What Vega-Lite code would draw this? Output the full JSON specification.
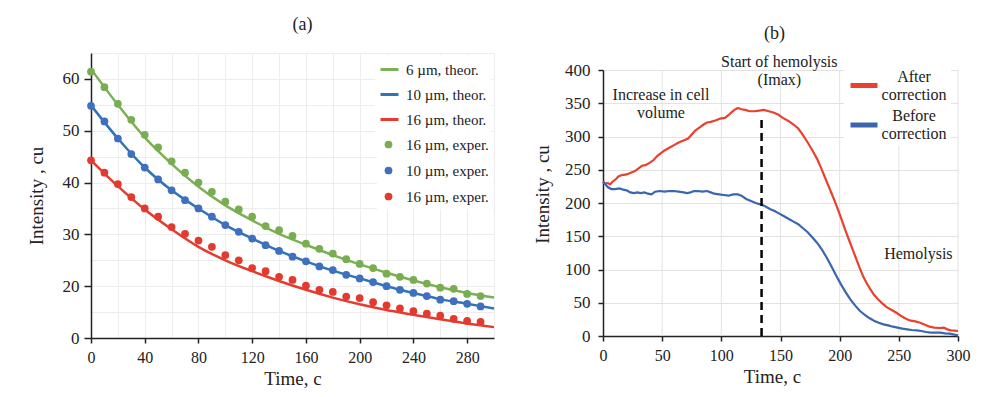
{
  "$schema": "https://vega.github.io/schema/vega-lite/v6.json",
  "padding": {"left": 27, "top": 16, "right": 5, "bottom": 2},
  "background": "white",
  "spacing": 34,
  "resolve": {
    "scale": {"stroke": "independent", "fill": "independent", "x": "independent", "y": "independent"},
    "legend": {"stroke": "independent", "fill": "independent"}
  },
  "config": {
    "font": "Liberation Serif",
    "view": {"stroke": null},
    "axis": {
      "labelFont": "Liberation Serif",
      "titleFont": "Liberation Serif",
      "labelColor": "#222222",
      "titleColor": "#222222",
      "titleFontWeight": "normal",
      "domainColor": "#222222",
      "tickColor": "#222222",
      "domainWidth": 1.5,
      "tickWidth": 1.5,
      "labelOverlap": false,
      "labelFlush": false
    },
    "legend": {"labelFont": "Liberation Serif", "labelColor": "#222222"},
    "title": {"font": "Liberation Serif", "fontWeight": "normal", "color": "#222222"}
  },
  "datasets": {
    "theor": [
      {"d": "6 µm, theor.", "t": 0, "v": 61.9}, {"d": "6 µm, theor.", "t": 20, "v": 55.0}, {"d": "6 µm, theor.", "t": 40, "v": 48.7}, {"d": "6 µm, theor.", "t": 60, "v": 43.6},
      {"d": "6 µm, theor.", "t": 80, "v": 39.2}, {"d": "6 µm, theor.", "t": 100, "v": 35.6}, {"d": "6 µm, theor.", "t": 120, "v": 32.7}, {"d": "6 µm, theor.", "t": 140, "v": 30.1},
      {"d": "6 µm, theor.", "t": 160, "v": 28.0}, {"d": "6 µm, theor.", "t": 180, "v": 26.0}, {"d": "6 µm, theor.", "t": 200, "v": 24.2}, {"d": "6 µm, theor.", "t": 220, "v": 22.6},
      {"d": "6 µm, theor.", "t": 240, "v": 21.1}, {"d": "6 µm, theor.", "t": 260, "v": 19.8}, {"d": "6 µm, theor.", "t": 280, "v": 18.7}, {"d": "6 µm, theor.", "t": 300, "v": 17.8},
      {"d": "10 µm, theor.", "t": 0, "v": 54.9}, {"d": "10 µm, theor.", "t": 20, "v": 48.5}, {"d": "10 µm, theor.", "t": 40, "v": 42.9}, {"d": "10 µm, theor.", "t": 60, "v": 38.5},
      {"d": "10 µm, theor.", "t": 80, "v": 35.0}, {"d": "10 µm, theor.", "t": 100, "v": 31.8}, {"d": "10 µm, theor.", "t": 120, "v": 29.2}, {"d": "10 µm, theor.", "t": 140, "v": 26.8},
      {"d": "10 µm, theor.", "t": 160, "v": 24.8}, {"d": "10 µm, theor.", "t": 180, "v": 23.0}, {"d": "10 µm, theor.", "t": 200, "v": 21.5}, {"d": "10 µm, theor.", "t": 220, "v": 20.0},
      {"d": "10 µm, theor.", "t": 240, "v": 18.7}, {"d": "10 µm, theor.", "t": 260, "v": 17.5}, {"d": "10 µm, theor.", "t": 280, "v": 16.6}, {"d": "10 µm, theor.", "t": 300, "v": 15.7},
      {"d": "16 µm, theor.", "t": 0, "v": 44.3}, {"d": "16 µm, theor.", "t": 20, "v": 39.3}, {"d": "16 µm, theor.", "t": 40, "v": 34.8}, {"d": "16 µm, theor.", "t": 60, "v": 31.0},
      {"d": "16 µm, theor.", "t": 80, "v": 27.6}, {"d": "16 µm, theor.", "t": 100, "v": 25.0}, {"d": "16 µm, theor.", "t": 120, "v": 22.9}, {"d": "16 µm, theor.", "t": 140, "v": 21.0},
      {"d": "16 µm, theor.", "t": 160, "v": 19.3}, {"d": "16 µm, theor.", "t": 180, "v": 17.8}, {"d": "16 µm, theor.", "t": 200, "v": 16.5}, {"d": "16 µm, theor.", "t": 220, "v": 15.4},
      {"d": "16 µm, theor.", "t": 240, "v": 14.5}, {"d": "16 µm, theor.", "t": 260, "v": 13.6}, {"d": "16 µm, theor.", "t": 280, "v": 12.8}, {"d": "16 µm, theor.", "t": 300, "v": 12.1}
    ],
    "exper": [
      {"series": "6 µm, exper.", "t": 0, "v": 61.4}, {"series": "6 µm, exper.", "t": 10, "v": 58.4}, {"series": "6 µm, exper.", "t": 20, "v": 55.2}, {"series": "6 µm, exper.", "t": 30, "v": 52.1},
      {"series": "6 µm, exper.", "t": 40, "v": 49.2}, {"series": "6 µm, exper.", "t": 50, "v": 46.8}, {"series": "6 µm, exper.", "t": 60, "v": 44.1}, {"series": "6 µm, exper.", "t": 70, "v": 41.9},
      {"series": "6 µm, exper.", "t": 80, "v": 40.0}, {"series": "6 µm, exper.", "t": 90, "v": 38.2}, {"series": "6 µm, exper.", "t": 100, "v": 36.3}, {"series": "6 µm, exper.", "t": 110, "v": 34.8},
      {"series": "6 µm, exper.", "t": 120, "v": 33.4}, {"series": "6 µm, exper.", "t": 130, "v": 31.6}, {"series": "6 µm, exper.", "t": 140, "v": 30.8}, {"series": "6 µm, exper.", "t": 150, "v": 29.7},
      {"series": "6 µm, exper.", "t": 160, "v": 28.2}, {"series": "6 µm, exper.", "t": 170, "v": 27.2}, {"series": "6 µm, exper.", "t": 180, "v": 26.3}, {"series": "6 µm, exper.", "t": 190, "v": 25.2},
      {"series": "6 µm, exper.", "t": 200, "v": 24.3}, {"series": "6 µm, exper.", "t": 210, "v": 23.5}, {"series": "6 µm, exper.", "t": 220, "v": 22.4}, {"series": "6 µm, exper.", "t": 230, "v": 21.8},
      {"series": "6 µm, exper.", "t": 240, "v": 21.2}, {"series": "6 µm, exper.", "t": 250, "v": 20.5}, {"series": "6 µm, exper.", "t": 260, "v": 19.7}, {"series": "6 µm, exper.", "t": 270, "v": 19.5},
      {"series": "6 µm, exper.", "t": 280, "v": 18.5}, {"series": "6 µm, exper.", "t": 290, "v": 18.1},
      {"series": "10 µm, exper.", "t": 0, "v": 54.8}, {"series": "10 µm, exper.", "t": 10, "v": 51.8}, {"series": "10 µm, exper.", "t": 20, "v": 48.5}, {"series": "10 µm, exper.", "t": 30, "v": 45.5},
      {"series": "10 µm, exper.", "t": 40, "v": 42.9}, {"series": "10 µm, exper.", "t": 50, "v": 40.6}, {"series": "10 µm, exper.", "t": 60, "v": 38.5}, {"series": "10 µm, exper.", "t": 70, "v": 36.6},
      {"series": "10 µm, exper.", "t": 80, "v": 35.0}, {"series": "10 µm, exper.", "t": 90, "v": 33.4}, {"series": "10 µm, exper.", "t": 100, "v": 31.8}, {"series": "10 µm, exper.", "t": 110, "v": 30.5},
      {"series": "10 µm, exper.", "t": 120, "v": 29.2}, {"series": "10 µm, exper.", "t": 130, "v": 27.9}, {"series": "10 µm, exper.", "t": 140, "v": 26.8}, {"series": "10 µm, exper.", "t": 150, "v": 25.7},
      {"series": "10 µm, exper.", "t": 160, "v": 24.8}, {"series": "10 µm, exper.", "t": 170, "v": 23.8}, {"series": "10 µm, exper.", "t": 180, "v": 23.1}, {"series": "10 µm, exper.", "t": 190, "v": 22.2},
      {"series": "10 µm, exper.", "t": 200, "v": 21.5}, {"series": "10 µm, exper.", "t": 210, "v": 20.8}, {"series": "10 µm, exper.", "t": 220, "v": 20.0}, {"series": "10 µm, exper.", "t": 230, "v": 19.3},
      {"series": "10 µm, exper.", "t": 240, "v": 18.7}, {"series": "10 µm, exper.", "t": 250, "v": 18.1}, {"series": "10 µm, exper.", "t": 260, "v": 17.4}, {"series": "10 µm, exper.", "t": 270, "v": 17.1},
      {"series": "10 µm, exper.", "t": 280, "v": 16.6}, {"series": "10 µm, exper.", "t": 290, "v": 16.1},
      {"series": "16 µm, exper.", "t": 0, "v": 44.3}, {"series": "16 µm, exper.", "t": 10, "v": 41.9}, {"series": "16 µm, exper.", "t": 20, "v": 39.7}, {"series": "16 µm, exper.", "t": 30, "v": 37.2},
      {"series": "16 µm, exper.", "t": 40, "v": 35.0}, {"series": "16 µm, exper.", "t": 50, "v": 33.4}, {"series": "16 µm, exper.", "t": 60, "v": 31.4}, {"series": "16 µm, exper.", "t": 70, "v": 30.1},
      {"series": "16 µm, exper.", "t": 80, "v": 28.8}, {"series": "16 µm, exper.", "t": 90, "v": 27.6}, {"series": "16 µm, exper.", "t": 100, "v": 26.0}, {"series": "16 µm, exper.", "t": 110, "v": 25.0},
      {"series": "16 µm, exper.", "t": 120, "v": 23.5}, {"series": "16 µm, exper.", "t": 130, "v": 22.9}, {"series": "16 µm, exper.", "t": 140, "v": 21.8}, {"series": "16 µm, exper.", "t": 150, "v": 21.2},
      {"series": "16 µm, exper.", "t": 160, "v": 20.1}, {"series": "16 µm, exper.", "t": 170, "v": 19.3}, {"series": "16 µm, exper.", "t": 180, "v": 18.9}, {"series": "16 µm, exper.", "t": 190, "v": 18.0},
      {"series": "16 µm, exper.", "t": 200, "v": 17.7}, {"series": "16 µm, exper.", "t": 210, "v": 16.9}, {"series": "16 µm, exper.", "t": 220, "v": 16.3}, {"series": "16 µm, exper.", "t": 230, "v": 15.7},
      {"series": "16 µm, exper.", "t": 240, "v": 15.2}, {"series": "16 µm, exper.", "t": 250, "v": 14.7}, {"series": "16 µm, exper.", "t": 260, "v": 14.3}, {"series": "16 µm, exper.", "t": 270, "v": 13.7},
      {"series": "16 µm, exper.", "t": 280, "v": 13.3}, {"series": "16 µm, exper.", "t": 290, "v": 13.1}
    ],
    "hemo": [
      {"s": "After correction", "t": 0, "v": 232}, {"s": "After correction", "t": 2, "v": 229}, {"s": "After correction", "t": 4, "v": 230}, {"s": "After correction", "t": 6, "v": 228},
      {"s": "After correction", "t": 8, "v": 232}, {"s": "After correction", "t": 11, "v": 236}, {"s": "After correction", "t": 13, "v": 240}, {"s": "After correction", "t": 16, "v": 242},
      {"s": "After correction", "t": 20, "v": 243}, {"s": "After correction", "t": 24, "v": 246}, {"s": "After correction", "t": 27, "v": 248}, {"s": "After correction", "t": 30, "v": 252},
      {"s": "After correction", "t": 33, "v": 256}, {"s": "After correction", "t": 36, "v": 257}, {"s": "After correction", "t": 40, "v": 261}, {"s": "After correction", "t": 43, "v": 265},
      {"s": "After correction", "t": 46, "v": 271}, {"s": "After correction", "t": 49, "v": 275}, {"s": "After correction", "t": 52, "v": 279}, {"s": "After correction", "t": 56, "v": 283},
      {"s": "After correction", "t": 60, "v": 287}, {"s": "After correction", "t": 64, "v": 291}, {"s": "After correction", "t": 68, "v": 294}, {"s": "After correction", "t": 72, "v": 297},
      {"s": "After correction", "t": 75, "v": 303}, {"s": "After correction", "t": 78, "v": 309}, {"s": "After correction", "t": 82, "v": 314}, {"s": "After correction", "t": 85, "v": 318},
      {"s": "After correction", "t": 88, "v": 321}, {"s": "After correction", "t": 91, "v": 322}, {"s": "After correction", "t": 95, "v": 324}, {"s": "After correction", "t": 99, "v": 327},
      {"s": "After correction", "t": 103, "v": 328}, {"s": "After correction", "t": 106, "v": 332}, {"s": "After correction", "t": 109, "v": 337}, {"s": "After correction", "t": 112, "v": 341},
      {"s": "After correction", "t": 114, "v": 343}, {"s": "After correction", "t": 117, "v": 341}, {"s": "After correction", "t": 120, "v": 340}, {"s": "After correction", "t": 124, "v": 338},
      {"s": "After correction", "t": 128, "v": 338}, {"s": "After correction", "t": 132, "v": 339}, {"s": "After correction", "t": 136, "v": 340}, {"s": "After correction", "t": 140, "v": 338},
      {"s": "After correction", "t": 144, "v": 336}, {"s": "After correction", "t": 148, "v": 333}, {"s": "After correction", "t": 152, "v": 328}, {"s": "After correction", "t": 157, "v": 323},
      {"s": "After correction", "t": 161, "v": 318}, {"s": "After correction", "t": 165, "v": 312}, {"s": "After correction", "t": 169, "v": 302}, {"s": "After correction", "t": 173, "v": 291},
      {"s": "After correction", "t": 177, "v": 279}, {"s": "After correction", "t": 181, "v": 266}, {"s": "After correction", "t": 184, "v": 254}, {"s": "After correction", "t": 187, "v": 241},
      {"s": "After correction", "t": 190, "v": 228}, {"s": "After correction", "t": 193, "v": 215}, {"s": "After correction", "t": 196, "v": 202}, {"s": "After correction", "t": 199, "v": 188},
      {"s": "After correction", "t": 202, "v": 173}, {"s": "After correction", "t": 205, "v": 158}, {"s": "After correction", "t": 208, "v": 144}, {"s": "After correction", "t": 211, "v": 130},
      {"s": "After correction", "t": 214, "v": 116}, {"s": "After correction", "t": 217, "v": 102}, {"s": "After correction", "t": 220, "v": 89}, {"s": "After correction", "t": 223, "v": 79},
      {"s": "After correction", "t": 226, "v": 70}, {"s": "After correction", "t": 229, "v": 62}, {"s": "After correction", "t": 232, "v": 56}, {"s": "After correction", "t": 236, "v": 49},
      {"s": "After correction", "t": 240, "v": 43}, {"s": "After correction", "t": 244, "v": 39}, {"s": "After correction", "t": 248, "v": 35}, {"s": "After correction", "t": 252, "v": 30},
      {"s": "After correction", "t": 256, "v": 26}, {"s": "After correction", "t": 260, "v": 23}, {"s": "After correction", "t": 264, "v": 22}, {"s": "After correction", "t": 268, "v": 20},
      {"s": "After correction", "t": 272, "v": 17}, {"s": "After correction", "t": 276, "v": 14}, {"s": "After correction", "t": 280, "v": 12.5}, {"s": "After correction", "t": 284, "v": 12},
      {"s": "After correction", "t": 288, "v": 12.5}, {"s": "After correction", "t": 291, "v": 10}, {"s": "After correction", "t": 294, "v": 8.5}, {"s": "After correction", "t": 297, "v": 8},
      {"s": "After correction", "t": 300, "v": 7.5},
      {"s": "Before correction", "t": 0, "v": 232}, {"s": "Before correction", "t": 2, "v": 228}, {"s": "Before correction", "t": 4, "v": 224}, {"s": "Before correction", "t": 7, "v": 221},
      {"s": "Before correction", "t": 10, "v": 221}, {"s": "Before correction", "t": 14, "v": 222}, {"s": "Before correction", "t": 17, "v": 220}, {"s": "Before correction", "t": 20, "v": 219},
      {"s": "Before correction", "t": 23, "v": 216}, {"s": "Before correction", "t": 26, "v": 215}, {"s": "Before correction", "t": 29, "v": 216}, {"s": "Before correction", "t": 32, "v": 215},
      {"s": "Before correction", "t": 35, "v": 216}, {"s": "Before correction", "t": 38, "v": 214}, {"s": "Before correction", "t": 41, "v": 213}, {"s": "Before correction", "t": 44, "v": 217},
      {"s": "Before correction", "t": 48, "v": 218}, {"s": "Before correction", "t": 52, "v": 217}, {"s": "Before correction", "t": 56, "v": 218}, {"s": "Before correction", "t": 60, "v": 218},
      {"s": "Before correction", "t": 64, "v": 217}, {"s": "Before correction", "t": 68, "v": 216}, {"s": "Before correction", "t": 71, "v": 215}, {"s": "Before correction", "t": 74, "v": 216},
      {"s": "Before correction", "t": 77, "v": 218}, {"s": "Before correction", "t": 80, "v": 218}, {"s": "Before correction", "t": 84, "v": 217}, {"s": "Before correction", "t": 88, "v": 218},
      {"s": "Before correction", "t": 91, "v": 216}, {"s": "Before correction", "t": 94, "v": 214}, {"s": "Before correction", "t": 98, "v": 213}, {"s": "Before correction", "t": 102, "v": 212},
      {"s": "Before correction", "t": 106, "v": 211}, {"s": "Before correction", "t": 110, "v": 213}, {"s": "Before correction", "t": 114, "v": 213}, {"s": "Before correction", "t": 117, "v": 211},
      {"s": "Before correction", "t": 121, "v": 206}, {"s": "Before correction", "t": 125, "v": 203}, {"s": "Before correction", "t": 129, "v": 200}, {"s": "Before correction", "t": 133, "v": 198},
      {"s": "Before correction", "t": 137, "v": 195}, {"s": "Before correction", "t": 141, "v": 191}, {"s": "Before correction", "t": 145, "v": 188}, {"s": "Before correction", "t": 149, "v": 184},
      {"s": "Before correction", "t": 153, "v": 180}, {"s": "Before correction", "t": 157, "v": 176}, {"s": "Before correction", "t": 161, "v": 172}, {"s": "Before correction", "t": 165, "v": 168},
      {"s": "Before correction", "t": 169, "v": 162}, {"s": "Before correction", "t": 173, "v": 156}, {"s": "Before correction", "t": 177, "v": 148}, {"s": "Before correction", "t": 181, "v": 140},
      {"s": "Before correction", "t": 185, "v": 130}, {"s": "Before correction", "t": 189, "v": 118}, {"s": "Before correction", "t": 193, "v": 105}, {"s": "Before correction", "t": 197, "v": 91},
      {"s": "Before correction", "t": 201, "v": 78}, {"s": "Before correction", "t": 205, "v": 66}, {"s": "Before correction", "t": 209, "v": 55}, {"s": "Before correction", "t": 213, "v": 46},
      {"s": "Before correction", "t": 217, "v": 38}, {"s": "Before correction", "t": 221, "v": 32}, {"s": "Before correction", "t": 225, "v": 27}, {"s": "Before correction", "t": 229, "v": 23},
      {"s": "Before correction", "t": 233, "v": 20}, {"s": "Before correction", "t": 237, "v": 17.5}, {"s": "Before correction", "t": 241, "v": 16}, {"s": "Before correction", "t": 245, "v": 14},
      {"s": "Before correction", "t": 249, "v": 12.5}, {"s": "Before correction", "t": 253, "v": 11}, {"s": "Before correction", "t": 257, "v": 10}, {"s": "Before correction", "t": 261, "v": 9},
      {"s": "Before correction", "t": 265, "v": 8.5}, {"s": "Before correction", "t": 269, "v": 7.5}, {"s": "Before correction", "t": 273, "v": 6}, {"s": "Before correction", "t": 277, "v": 5},
      {"s": "Before correction", "t": 281, "v": 5}, {"s": "Before correction", "t": 285, "v": 5}, {"s": "Before correction", "t": 289, "v": 4}, {"s": "Before correction", "t": 293, "v": 3.5},
      {"s": "Before correction", "t": 297, "v": 2}, {"s": "Before correction", "t": 300, "v": 1}
    ],
    "vgrid": [
      {"t": 50, "v": 0, "hi": 400}, {"t": 100, "v": 0, "hi": 400}, {"t": 150, "v": 0, "hi": 400},
      {"t": 200, "v": 0, "hi": 400}, {"t": 250, "v": 0, "hi": 400}, {"t": 300, "v": 0, "hi": 400}
    ],
    "marker": [{"t": 134, "v": 0, "hi": 328}],
    "notes": [
      {"t": 49, "v": 362, "label": ["Increase in cell", "volume"]},
      {"t": 149, "v": 412, "label": ["Start of hemolysis", "(Imax)"]},
      {"t": 266.5, "v": 123, "label": ["Hemolysis"]}
    ]
  },
  "hconcat": [
    {
      "title": {"text": "(a)", "fontSize": 18, "offset": 10, "dx": 10},
      "width": 403,
      "height": 285,
      "encoding": {
        "x": {
          "field": "t", "type": "quantitative",
          "scale": {"domain": [0, 300], "nice": false},
          "axis": {
            "title": "Time, c",
            "values": [0, 20, 40, 60, 80, 100, 120, 140, 160, 180, 200, 220, 240, 260, 280, 300],
            "labelExpr": "datum.value % 40 == 0 ? datum.label : ''",
            "tickOpacity": {"condition": {"test": "datum.value % 40 == 0", "value": 1}, "value": 0},
            "grid": true, "gridColor": "#ededed", "gridWidth": 1,
            "labelFontSize": 16, "titleFontSize": 19, "tickSize": 5, "labelPadding": 6, "titlePadding": 4
          }
        },
        "y": {
          "field": "v", "type": "quantitative",
          "scale": {"domain": [10, 65], "nice": false, "zero": false},
          "axis": {
            "title": "Intensity , cu",
            "values": [10, 15, 20, 25, 30, 35, 40, 45, 50, 55, 60, 65],
            "labelExpr": "datum.value == 10 ? '0' : (datum.value % 10 == 0 ? datum.label : '')",
            "tickOpacity": {"condition": {"test": "datum.value % 10 == 0", "value": 1}, "value": 0},
            "grid": true, "gridColor": "#ededed", "gridWidth": 1,
            "labelFontSize": 17, "titleFontSize": 19, "tickSize": 7, "labelPadding": 5, "titlePadding": 16
          }
        }
      },
      "layer": [
        {
          "data": {"name": "theor"},
          "mark": {"type": "line", "strokeWidth": 2.5, "interpolate": "monotone"},
          "encoding": {
            "stroke": {
              "field": "d", "type": "nominal",
              "scale": {"domain": ["6 µm, theor.", "10 µm, theor.", "16 µm, theor."], "range": ["#7bb053", "#2f73b8", "#e63c2f"]},
              "legend": {
                "orient": "none", "legendX": 284, "legendY": 2, "title": null,
                "symbolType": "stroke", "symbolStrokeWidth": 3, "symbolSize": 324,
                "labelFontSize": 15, "labelOffset": 6, "rowPadding": 6,
                "fillColor": "white", "padding": 4
              }
            }
          }
        },
        {
          "data": {"name": "exper"},
          "mark": {"type": "circle", "size": 60, "opacity": 1},
          "encoding": {
            "fill": {
              "field": "series", "type": "nominal",
              "scale": {"domain": ["6 µm, exper.", "10 µm, exper.", "16 µm, exper."], "range": ["#78ad52", "#3f6fbf", "#e33a30"]},
              "legend": {
                "orient": "none", "legendX": 286, "legendY": 80, "title": null,
                "symbolType": "circle", "symbolSize": 60, "symbolStrokeWidth": 0,
                "labelFontSize": 15, "labelOffset": 10, "rowPadding": 10,
                "fillColor": "white", "padding": 4,
                "labelExpr": "datum.label == '6 µm, exper.' ? '16 µm, exper.' : datum.label"
              }
            }
          }
        }
      ]
    },
    {
      "title": {"text": "(b)", "fontSize": 18, "offset": 10, "dx": -6},
      "width": 355,
      "height": 283,
      "encoding": {
        "x": {
          "field": "t", "type": "quantitative",
          "scale": {"domain": [0, 300], "nice": false},
          "axis": {
            "title": "Time, c",
            "values": [0, 50, 100, 150, 200, 250, 300],
            "grid": false,
            "labelFontSize": 16, "titleFontSize": 19, "tickSize": 5, "labelPadding": 6, "titlePadding": 4,
            "titleX": 169
          }
        },
        "y": {
          "field": "v", "type": "quantitative",
          "scale": {"domain": [0, 400], "nice": false, "range": [283, 17]},
          "axis": {
            "title": "Intensity , cu",
            "values": [0, 50, 100, 150, 200, 250, 300, 350, 400],
            "grid": true, "gridColor": "#e3e3e3", "gridWidth": 1,
            "labelFontSize": 17, "titleFontSize": 19, "tickSize": 5, "labelPadding": 8, "titlePadding": 12,
            "titleY": 141
          }
        }
      },
      "layer": [
        {
          "data": {"name": "vgrid"},
          "mark": {"type": "rule", "strokeWidth": 1, "color": "#e3e3e3"},
          "encoding": {
            "y2": {"field": "hi"}
          }
        },
        {
          "data": {"name": "hemo"},
          "mark": {"type": "line", "strokeWidth": 2.2},
          "encoding": {
            "stroke": {
              "field": "s", "type": "nominal",
              "scale": {"domain": ["After correction", "Before correction"], "range": ["#e9412e", "#3a66ad"]},
              "legend": {
                "orient": "none", "legendX": 241, "legendY": 12.5, "title": null,
                "symbolType": "stroke", "symbolStrokeWidth": 5, "symbolSize": 729,
                "labelFontSize": 16, "labelAlign": "center", "labelBaseline": "line-bottom", "labelOffset": 34, "labelLimit": 300,
                "labelExpr": "split(datum.label, ' ')",
                "rowPadding": 5.5, "fillColor": "white", "padding": 4
              }
            }
          }
        },
        {
          "data": {"name": "marker"},
          "mark": {"type": "rule", "strokeDash": [8, 5], "strokeWidth": 2.5, "color": "#000000"},
          "encoding": {
            "y2": {"field": "hi"}
          }
        },
        {
          "data": {"name": "notes"},
          "mark": {"type": "text", "fontSize": 16, "lineHeight": 18, "baseline": "middle", "align": "center", "color": "#222222"},
          "encoding": {
            "text": {"field": "label"}
          }
        }
      ]
    }
  ]
}
